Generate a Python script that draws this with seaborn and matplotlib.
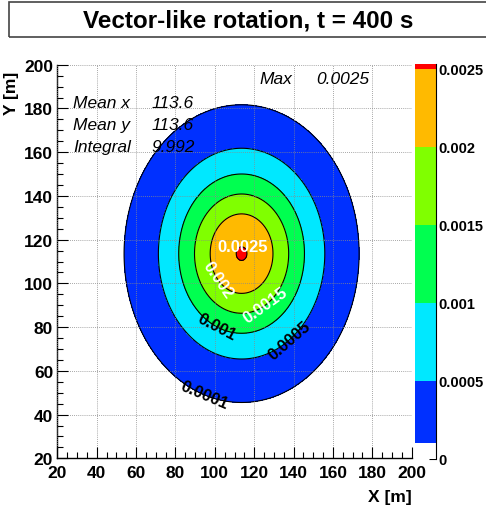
import numpy as np
import matplotlib
matplotlib.use("Agg")
import matplotlib.pyplot as plt
import matplotlib.patches as mpatches
from matplotlib.ticker import MultipleLocator
import seaborn as sns

sns.set_theme(style="ticks")
plt.rcParams['font.family'] = ['Liberation Sans', 'DejaVu Sans']
plt.rcParams['text.color'] = 'black'
plt.rcParams['axes.labelcolor'] = 'black'
plt.rcParams['xtick.color'] = 'black'
plt.rcParams['ytick.color'] = 'black'

# values
title = "Vector-like rotation, t = 400 s"
mean_x = 113.6
mean_y = 113.6
sigma_x = 23.5
sigma_y = 26.8
peak = 0.002517
x_range = [20, 200]
y_range = [20, 200]

contour_levels = [0.0001, 0.0005, 0.001, 0.0015, 0.002, 0.0025]
level_label_colors = ["black", "black", "black", "white", "white", "white"]
fill_levels = [0, 0.0001, 0.0005, 0.001, 0.0015, 0.002, 0.0025, 0.00253]
fill_colors = ["white", "#0030FF", "#00E8FF", "#00FF50", "#80FF00", "#FFBA00", "#FF0000"]
cbar_ticks = [0, 0.0005, 0.001, 0.0015, 0.002, 0.0025]

label_pos = [(102.6, 102.8), (125.5, 90.6), (101.8, 81.1), (137.3, 74.6), (95.0, 50.2)]

stats_names = ["Mean x", "Mean y", "Integral"]
stats_values = ["113.6", "113.6", "9.992"]
max_value = "0.0025"

# field
gx = np.linspace(x_range[0], x_range[1], 361)
gy = np.linspace(y_range[0], y_range[1], 361)
X, Y = np.meshgrid(gx, gy)
Z = peak * np.exp(-0.5 * (((X - mean_x) / sigma_x) ** 2 + ((Y - mean_y) / sigma_y) ** 2))

fig = plt.figure(figsize=(4.86, 5.10), dpi=100)
ax = fig.add_axes([57.3 / 486, 1 - 459.3 / 510, 354.4 / 486, 393.6 / 510])
cax = fig.add_axes([415 / 486, 1 - 460 / 510, 21 / 486, 395 / 510])

ax.set_xlim(x_range)
ax.set_ylim(y_range)

cf = ax.contourf(X, Y, Z, levels=fill_levels, colors=fill_colors)
cs = ax.contour(X, Y, Z, levels=contour_levels, colors="black", linewidths=0.8)

txts = ax.clabel(cs, levels=contour_levels, manual=label_pos, inline=False,
                 colors=level_label_colors, fontsize=12, fmt=lambda v: f"{v:g}")
for t in txts:
    t.set_fontweight("bold")
    t.set_zorder(6)
ax.text(mean_x + 0.5, mean_y + 3.2, "0.0025", color="white", fontsize=12,
        fontweight="bold", ha="center", va="center", zorder=6)

sns.despine(ax=ax)
ax.set_axisbelow(False)
ax.grid(True, color="#8a8a8a", linestyle=(0, (1, 1.5)), linewidth=0.6)
ax.xaxis.set_major_locator(MultipleLocator(20))
ax.yaxis.set_major_locator(MultipleLocator(20))
ax.xaxis.set_minor_locator(MultipleLocator(5))
ax.yaxis.set_minor_locator(MultipleLocator(5))
ax.tick_params(which="major", direction="in", length=8, width=0.8, labelsize=12.5, color="black")
ax.tick_params(which="minor", direction="in", length=4, width=0.8, color="black")
ax.tick_params(axis="x", pad=5)
ax.tick_params(axis="y", pad=3)
for lab in ax.get_xticklabels() + ax.get_yticklabels():
    lab.set_fontweight("bold")
for sp in ["left", "bottom"]:
    ax.spines[sp].set_color("black")
    ax.spines[sp].set_linewidth(1.0)

ax.set_xlabel("X [m]", loc="right", fontsize=12.5, fontweight="bold")
ax.set_ylabel("Y [m]", loc="top", fontsize=12.5, fontweight="bold")
ax.xaxis.set_label_coords(1.0, -0.078)
ax.yaxis.set_label_coords(-0.108, 0.984)

# stats box text
for i, (name, val) in enumerate(zip(stats_names, stats_values)):
    yy = 0.905 - i * 0.057
    ax.text(0.044, yy, name, transform=ax.transAxes, fontsize=12.5, style="italic",
            va="center", zorder=7)
    ax.text(0.266, yy, val, transform=ax.transAxes, fontsize=12.5, style="italic",
            va="center", zorder=7)
ax.text(0.570, 0.964, "Max", transform=ax.transAxes, fontsize=12.5, style="italic",
        va="center", zorder=7)
ax.text(0.732, 0.964, max_value, transform=ax.transAxes, fontsize=12.5, style="italic",
        va="center", zorder=7)

# palette
cb = fig.colorbar(cf, cax=cax, spacing="proportional", ticks=cbar_ticks)
cb.outline.set_visible(False)
cax.spines["right"].set_visible(True)
cax.spines["right"].set_color("black")
cax.spines["right"].set_linewidth(0.8)
cax.yaxis.set_ticks_position("right")
cax.tick_params(direction="in", length=5, width=0.8, pad=2, labelsize=10.5, color="black")
cax.set_yticklabels([f"{v:g}" for v in cbar_ticks])
for lab in cax.get_yticklabels():
    lab.set_fontweight("bold")

# title box
fig.patches.append(mpatches.Rectangle((9 / 486, 1 - 38 / 510), 1.0, 35 / 510,
                                      transform=fig.transFigure, fill=False,
                                      edgecolor="#444444", linewidth=1.2))
fig.text(248 / 486, 1 - 21 / 510, title, ha="center", va="center",
         fontsize=17.5, fontweight="bold")

fig.savefig("out.png", dpi=100)
